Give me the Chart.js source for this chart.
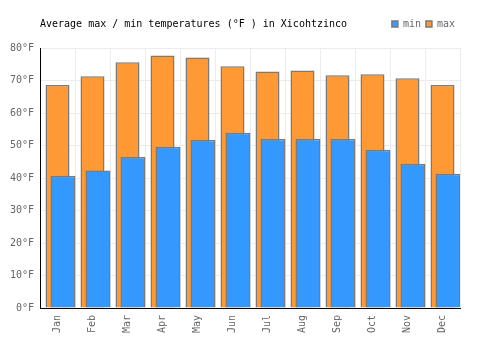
<!DOCTYPE html>
<html>
<head>
<meta charset="utf-8">
<script src="https://cdn.jsdelivr.net/npm/chart.js@4/dist/chart.umd.min.js"></script>
<style>
html,body{margin:0;padding:0;background:#fff;}
#wrap{width:500px;height:350px;}
</style>
</head>
<body>
<div id="wrap"><canvas id="c" width="500" height="350"></canvas></div>
<script>
const months = ["Jan","Feb","Mar","Apr","May","Jun","Jul","Aug","Sep","Oct","Nov","Dec"];
const minTemps = [40.7, 42.3, 46.5, 49.6, 51.7, 53.9, 52.0, 52.0, 52.0, 48.7, 44.4, 41.3];
const maxTemps = [68.6, 71.3, 75.6, 77.7, 77.1, 74.4, 72.8, 73.1, 71.6, 71.9, 70.7, 68.6];
const yTicks = [0, 10, 20, 30, 40, 50, 60, 70, 80];
const titleText = "Average max / min temperatures (°F ) in Xicohtzinco";

const FONT = "'DejaVu Sans Mono', monospace";
const shift = 5.5 / 35;

const layoutPlugin = {
  id: 'legendExtra',
  beforeUpdate(chart) {
    const lg = chart.legend;
    if (lg && !lg._wrapped) {
      const orig = lg.update.bind(lg);
      lg.update = function (w, h, m) {
        orig(w, h, m);
        this.height += 9;
      };
      lg._wrapped = true;
    }
  },
  afterDraw(chart) {
    const ctx = chart.ctx;
    const hb = chart.legend && chart.legend.legendHitBoxes && chart.legend.legendHitBoxes[0];
    const y = hb ? hb.top + hb.height / 2 : 24;
    ctx.save();
    ctx.font = "10px " + FONT;
    ctx.fillStyle = "#000";
    ctx.textAlign = "left";
    ctx.textBaseline = "middle";
    ctx.fillText(titleText, chart.chartArea.left, y);
    ctx.restore();
  }
};

new Chart(document.getElementById('c'), {
  type: 'bar',
  data: {
    labels: months,
    datasets: [
      {
        label: 'min',
        data: minTemps.map((v, i) => ({x: i, y: v})),
        xAxisID: 'xb',
        backgroundColor: '#3399ff',
        borderColor: '#7a7a7a',
        borderWidth: 1.5,
        categoryPercentage: 1,
        barPercentage: 25 / 35,
        grouped: false
      },
      {
        label: 'max',
        data: maxTemps,
        xAxisID: 'x',
        backgroundColor: '#ff9933',
        borderColor: '#7a7a7a',
        borderWidth: 1.5,
        categoryPercentage: 1,
        barPercentage: 24 / 35,
        grouped: false
      }
    ]
  },
  options: {
    responsive: false,
    animation: false,
    devicePixelRatio: 1,
    layout: { padding: { left: 10, right: 40, top: 14, bottom: 0 } },
    plugins: {
      legend: {
        display: true,
        position: 'top',
        align: 'end',
        labels: {
          boxWidth: 6,
          boxHeight: 6,
          padding: 5,
          color: '#666',
          font: { family: FONT, size: 10 }
        }
      },
      title: { display: false },
      tooltip: { enabled: false }
    },
    scales: {
      x: {
        type: 'category',
        offset: true,
        grid: { color: '#ececec', offset: true, drawTicks: false },
        border: { color: '#000', width: 1 },
        afterFit(scale) { scale.height = 42; },
        ticks: {
          color: '#666',
          font: { family: FONT, size: 10 },
          minRotation: 90,
          maxRotation: 90,
          padding: 7
        }
      },
      xb: {
        type: 'linear',
        display: false,
        min: -0.5 - shift,
        max: 11.5 - shift,
        offset: false
      },
      y: {
        min: 0,
        max: 80,
        grid: { color: '#ececec', drawTicks: false },
        border: { color: '#000', width: 1 },
        afterFit(scale) { scale.width = 30; },
        afterBuildTicks(scale) { scale.ticks = yTicks.map(v => ({value: v})); },
        ticks: {
          color: '#666',
          font: { family: FONT, size: 10 },
          padding: 6,
          callback: v => v + '°F'
        }
      }
    }
  },
  plugins: [layoutPlugin]
});
</script>
</body>
</html>
